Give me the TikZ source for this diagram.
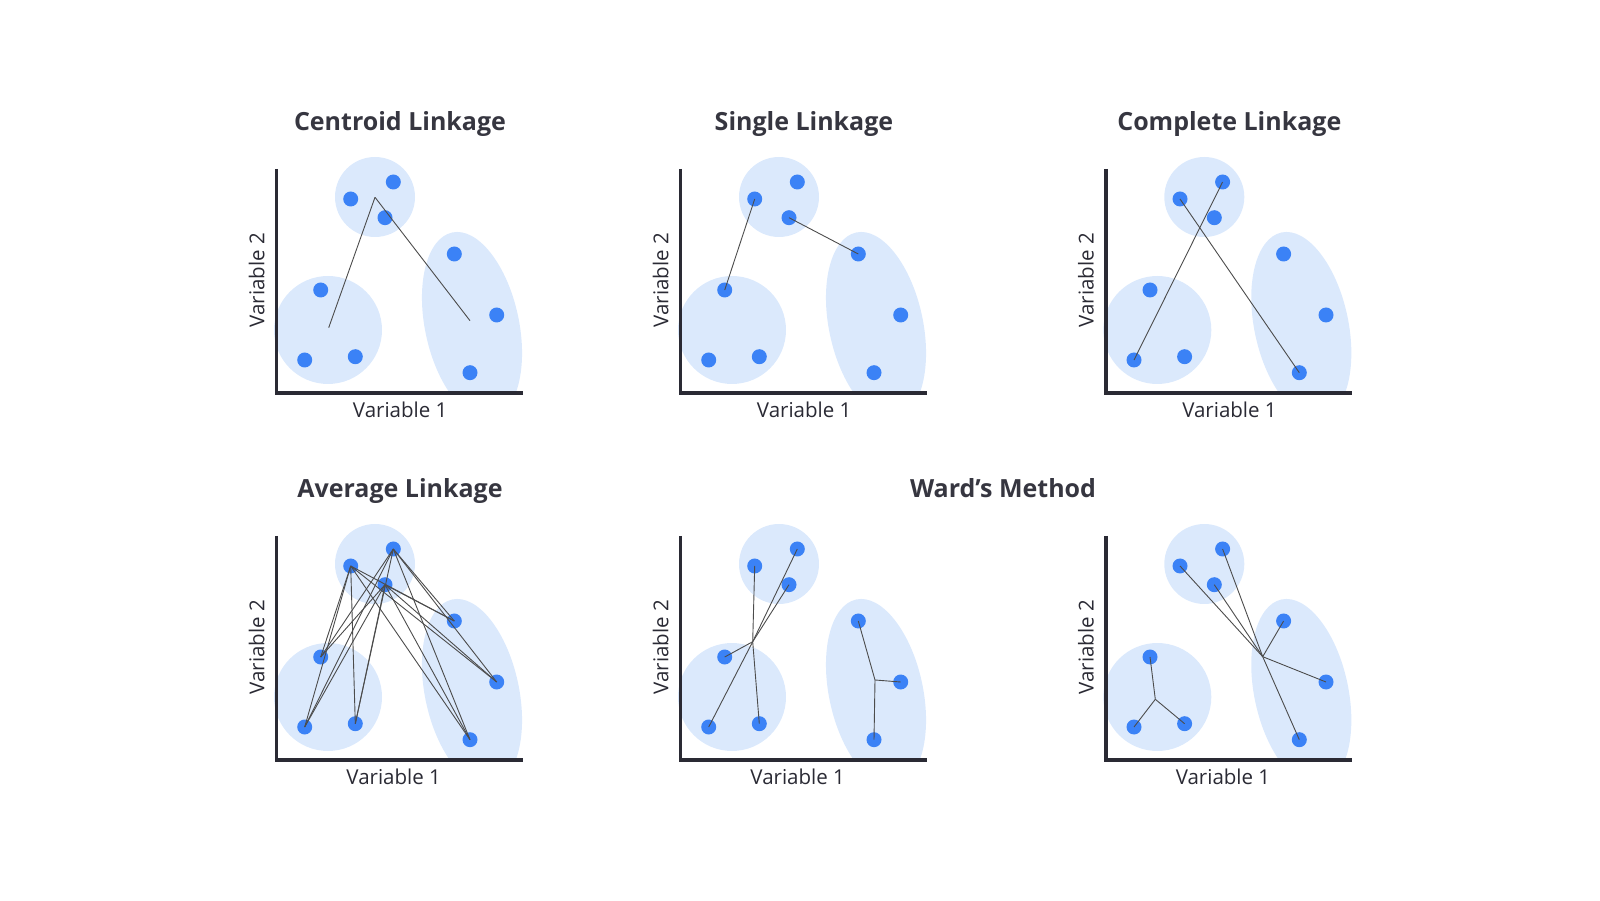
\documentclass[tikz,border=0pt]{standalone}
\usepackage{fontspec}
\setmainfont{Open Sans}
\definecolor{dotblue}{RGB}{59,130,246}
\definecolor{clusterblue}{RGB}{219,233,252}
\definecolor{axisgray}{RGB}{42,42,52}
\definecolor{titlegray}{RGB}{54,54,64}
\tikzstyle{dot} = [circle, fill=dotblue, inner sep=0pt, minimum size=15pt]
\tikzstyle{cluster} = [fill=clusterblue]
\tikzstyle{link} = [draw=black!70, line width=0.9pt]
\tikzstyle{axis} = [draw=axisgray, line width=3.5pt]
\tikzstyle{title} = [anchor=base, font=\bfseries\fontsize{25}{30}\selectfont, text=titlegray]
\tikzstyle{axislabel} = [font=\fontsize{20.5}{24}\selectfont, text=axisgray]

% one scatter panel: #1 name prefix, #2 x of the Variable 1 label
\newcommand{\clusterpanel}[2]{%
	\begin{scope}
		\clip (-4,-1) rectangle (260,250);
		\fill[cluster] (98.3,196) circle (40);
		\fill[cluster] (51.3,63) circle (54);
		\fill[cluster] (195.3,67.6) ellipse [x radius=47, y radius=95, rotate=12];
	\end{scope}
	\draw[axis] (0,224) -- (0,0) -- (246,0);
	\node[axislabel, anchor=base] (#1-xlab) at (#2,-24.7) {Variable 1};
	\node[axislabel, rotate=90] (#1-ylab) at (-20,113) {Variable 2};
	\node[dot] (#1-t1) at (74,194) {};
	\node[dot] (#1-t2) at (116.6,211) {};
	\node[dot] (#1-t3) at (108.3,175.3) {};
	\node[dot] (#1-l1) at (44,103) {};
	\node[dot] (#1-l2) at (28,33) {};
	\node[dot] (#1-l3) at (78.6,36.3) {};
	\node[dot] (#1-r1) at (177.6,139) {};
	\node[dot] (#1-r2) at (220,78) {};
	\node[dot] (#1-r3) at (193.3,20.3) {};
}

\begin{document}
\begin{tikzpicture}[x=1pt, y=1pt]
	\useasboundingbox (0,0) rectangle (1600,900);

	% centroid linkage
	\begin{scope}[shift={(276.7,507)}]
		\clusterpanel{cen}{123.5}
		\node[title] (cen-title) at (123.3,262) {Centroid Linkage};
		\coordinate (cen-ct) at (98.3,195.7);
		\coordinate (cen-cl) at (52,65.3);
		\coordinate (cen-cr) at (193.3,72.3);
		\draw[link] (cen-ct) -- (cen-cl);
		\draw[link] (cen-ct) -- (cen-cr);
	\end{scope}

	% single linkage
	\begin{scope}[shift={(680.7,507)}]
		\clusterpanel{sgl}{123.5}
		\node[title] (sgl-title) at (123.3,262) {Single Linkage};
		\draw[link] (sgl-t1.center) -- (sgl-l1.center);
		\draw[link] (sgl-t3.center) -- (sgl-r1.center);
	\end{scope}

	% complete linkage
	\begin{scope}[shift={(1106,507)}]
		\clusterpanel{cmp}{123.5}
		\node[title] (cmp-title) at (123.3,262) {Complete Linkage};
		\draw[link] (cmp-t2.center) -- (cmp-l2.center);
		\draw[link] (cmp-t1.center) -- (cmp-r3.center);
	\end{scope}

	% average linkage
	\begin{scope}[shift={(276.7,140)}]
		\clusterpanel{avg}{117}
		\node[title] (avg-title) at (123.3,262) {Average Linkage};
		\foreach \a in {t1,t2,t3}
			\foreach \b in {l1,l2,l3,r1,r2,r3}
				\draw[link] (avg-\a.center) -- (avg-\b.center);
	\end{scope}

	% ward's method, two panels
	\node[title] (ward-title) at (1003,402.3) {Ward’s Method};
	\begin{scope}[shift={(680.7,140)}]
		\clusterpanel{wl}{117}
		\coordinate (wl-j1) at (72,118.3);
		\coordinate (wl-j2) at (194.3,80);
		\foreach \b in {t1,t2,t3,l1,l2,l3}
			\draw[link] (wl-j1) -- (wl-\b.center);
		\foreach \b in {r1,r2,r3}
			\draw[link] (wl-j2) -- (wl-\b.center);
	\end{scope}
	\begin{scope}[shift={(1106,140)}]
		\clusterpanel{wr}{117}
		\coordinate (wr-j1) at (49.3,60.7);
		\coordinate (wr-j2) at (156.7,103.3);
		\foreach \b in {l1,l2,l3}
			\draw[link] (wr-j1) -- (wr-\b.center);
		\foreach \b in {t1,t2,t3,r1,r2,r3}
			\draw[link] (wr-j2) -- (wr-\b.center);
	\end{scope}
\end{tikzpicture}
\end{document}
